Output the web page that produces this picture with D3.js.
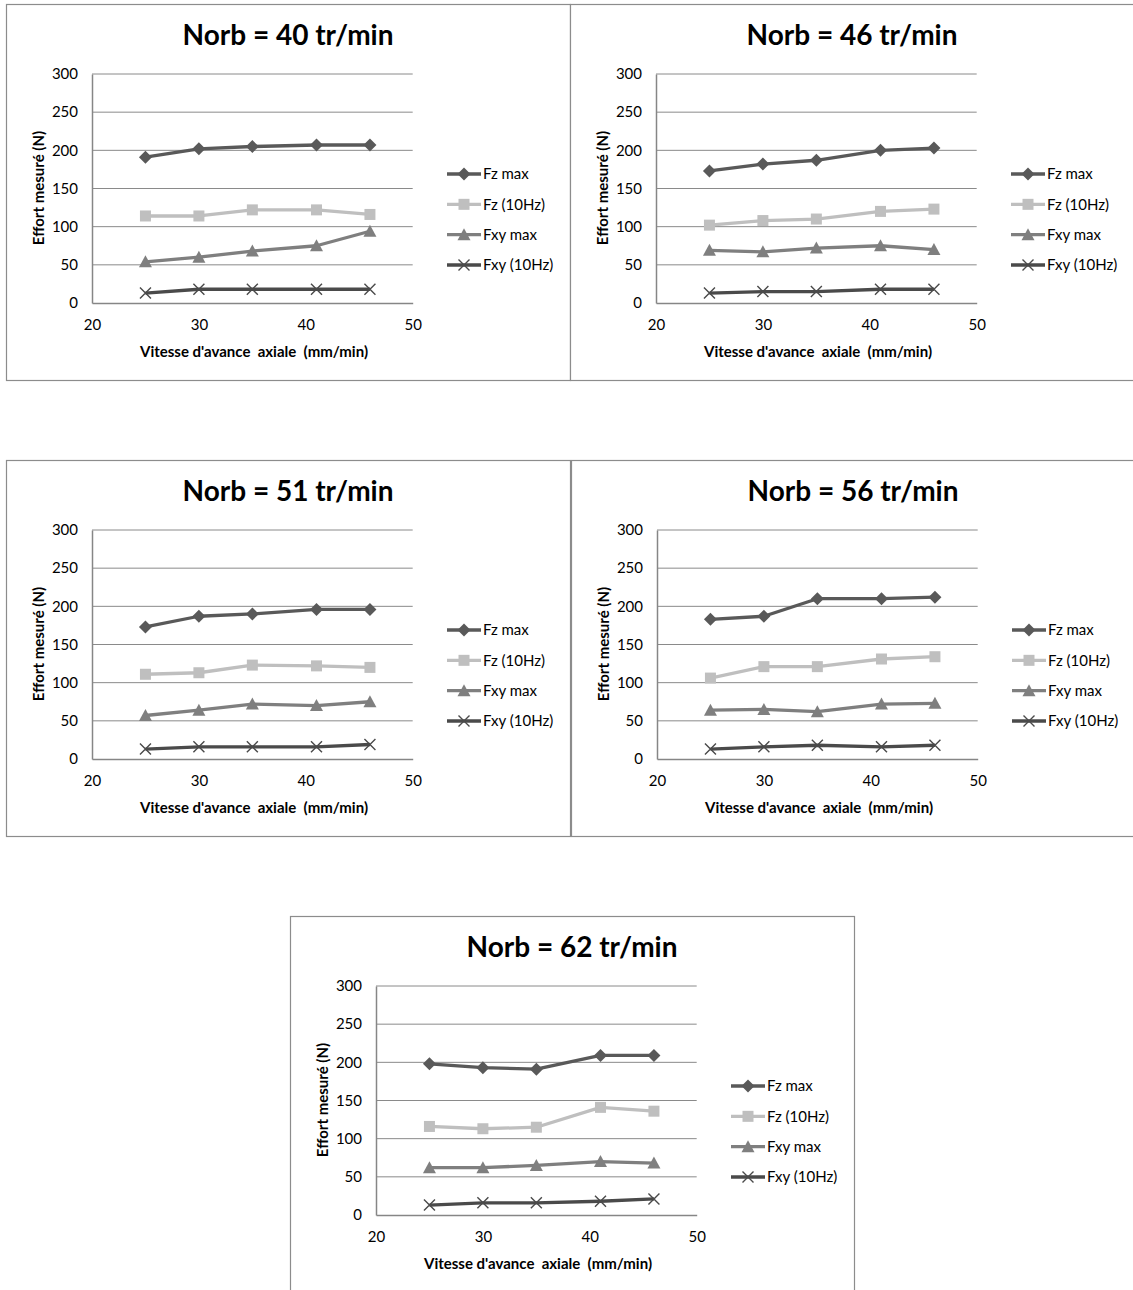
<!DOCTYPE html>
<html>
<head>
<meta charset="utf-8">
<script src="https://cdn.jsdelivr.net/npm/d3@7"></script>
<style>
  html, body { margin: 0; padding: 0; background: #fff; }
  svg { display: block; }
  text { font-family: Lato, "Open Sans", sans-serif; fill: #000; }
</style>
</head>
<body>
<svg id="chart" width="1133" height="1290"></svg>
<script>
// ---------- data ----------
const xValues = [25, 30, 35, 41, 46];
const panelTitles = ["Norb = 40 tr/min", "Norb = 46 tr/min", "Norb = 51 tr/min", "Norb = 56 tr/min", "Norb = 62 tr/min"];
const seriesNames = ["Fz max", "Fz (10Hz)", "Fxy max", "Fxy (10Hz)"];
const xTicks = [20, 30, 40, 50];
const yTicks = [0, 50, 100, 150, 200, 250, 300];
const xAxisTitle = "Vitesse d'avance  axiale  (mm/min)";
const yAxisTitle = "Effort mesuré (N)";

// one row per panel (Norb = 40, 46, 51, 56, 62)
const fzMax = [
  [191, 202, 205, 207, 207],
  [173, 182, 187, 200, 203],
  [173, 187, 190, 196, 196],
  [183, 187, 210, 210, 212],
  [198, 193, 191, 209, 209]
];
const fz10Hz = [
  [114, 114, 122, 122, 116],
  [102, 108, 110, 120, 123],
  [111, 113, 123, 122, 120],
  [106, 121, 121, 131, 134],
  [116, 113, 115, 141, 136]
];
const fxyMax = [
  [54, 60, 68, 75, 94],
  [69, 67, 72, 75, 70],
  [57, 64, 72, 70, 75],
  [64, 65, 62, 72, 73],
  [62, 62, 65, 70, 68]
];
const fxy10Hz = [
  [13, 18, 18, 18, 18],
  [13, 15, 15, 18, 18],
  [13, 16, 16, 16, 19],
  [13, 16, 18, 16, 18],
  [13, 16, 16, 18, 21]
];

// ---------- styles / layout ----------
const seriesData = [fzMax, fz10Hz, fxyMax, fxy10Hz];
const seriesColors = ["#595959", "#bfbfbf", "#7f7f7f", "#4a4a4a"];
const seriesMarkers = ["diamond", "square", "triangle", "cross"];
const panelOrigins = [[6, 4], [570, 4], [6, 460], [571, 460], [290, 916]];
const PW = 564, PH = 376;
const plot = { left: 86, right: 406.7, top: 70, bottom: 299 };

const svg = d3.select("#chart");

const x = d3.scaleLinear().domain([20, 50]).range([plot.left, plot.right]);
const y = d3.scaleLinear().domain([0, 300]).range([plot.bottom, plot.top]);

function drawMarker(g, type, cx, cy, color) {
  if (type === "diamond") {
    g.append("path").attr("d", `M${cx},${cy-6.5}L${cx+6.5},${cy}L${cx},${cy+6.5}L${cx-6.5},${cy}Z`)
      .attr("fill", color);
  } else if (type === "square") {
    g.append("rect").attr("x", cx - 5.5).attr("y", cy - 5.5).attr("width", 11).attr("height", 11)
      .attr("fill", color);
  } else if (type === "triangle") {
    g.append("path").attr("d", `M${cx},${cy-6.5}L${cx+6.5},${cy+5.5}L${cx-6.5},${cy+5.5}Z`)
      .attr("fill", color);
  } else if (type === "cross") {
    g.append("path").attr("d", `M${cx-5.5},${cy-5.5}L${cx+5.5},${cy+5.5}M${cx-5.5},${cy+5.5}L${cx+5.5},${cy-5.5}`)
      .attr("stroke", color).attr("stroke-width", 1.4).attr("fill", "none");
  }
}

panelTitles.forEach((title, p) => {
  const [ox, oy] = panelOrigins[p];
  const g = svg.append("g").attr("transform", `translate(${ox},${oy})`);

  // border
  g.append("rect").attr("x", 0.5).attr("y", 0.5).attr("width", PW).attr("height", PH)
    .attr("fill", "#fff").attr("stroke", "#8c8c8c").attr("stroke-width", 1.2);

  // title
  g.append("text").attr("x", 282).attr("y", 41).attr("text-anchor", "middle")
    .attr("font-size", 28).attr("font-weight", "bold").text(title);

  // grid lines
  g.append("g").selectAll("line").data(yTicks.filter(t => t > 0)).join("line")
    .attr("x1", plot.left).attr("x2", plot.right)
    .attr("y1", d => y(d)).attr("y2", d => y(d))
    .attr("stroke", "#8a8a8a").attr("stroke-width", 1);

  // y axis
  const yAxis = g.append("g").attr("transform", `translate(${plot.left},0)`)
    .call(d3.axisLeft(y).tickValues(yTicks).tickSize(0).tickPadding(14));
  yAxis.select(".domain").attr("stroke", "#868686").attr("stroke-width", 1.5);
  yAxis.selectAll("text").attr("font-size", 15).attr("fill", "#000")
    .attr("font-family", "Lato, sans-serif");

  // x axis
  const xAxis = g.append("g").attr("transform", `translate(0,${plot.bottom})`)
    .call(d3.axisBottom(x).tickValues(xTicks).tickSize(0).tickPadding(16));
  xAxis.select(".domain").attr("stroke", "#868686").attr("stroke-width", 1.5);
  xAxis.selectAll("text").attr("font-size", 15).attr("fill", "#000")
    .attr("font-family", "Lato, sans-serif");

  // axis titles
  g.append("text").attr("x", 248).attr("y", 353).attr("text-anchor", "middle")
    .attr("font-size", 15).attr("font-weight", "bold").style("white-space", "pre")
    .text(xAxisTitle);
  g.append("text").attr("transform", `translate(38,184) rotate(-90)`)
    .attr("text-anchor", "middle").attr("font-size", 15).attr("font-weight", "bold")
    .text(yAxisTitle);

  // series
  const line = d3.line().x(d => x(d[0])).y(d => y(d[1]));
  seriesData.forEach((arr, s) => {
    const pts = xValues.map((xv, i) => [xv, arr[p][i]]);
    g.append("path").datum(pts).attr("d", line)
      .attr("fill", "none").attr("stroke", seriesColors[s]).attr("stroke-width", 3.3)
      .attr("stroke-linejoin", "round");
    const mg = g.append("g");
    pts.forEach(d => drawMarker(mg, seriesMarkers[s], x(d[0]), y(d[1]), seriesColors[s]));
  });

  // legend
  const legY = d3.scalePoint().domain(seriesNames).range([170, 261]);
  seriesNames.forEach((name, s) => {
    const ly = legY(name);
    g.append("line").attr("x1", 441).attr("x2", 475).attr("y1", ly).attr("y2", ly)
      .attr("stroke", seriesColors[s]).attr("stroke-width", 3.3);
    drawMarker(g, seriesMarkers[s], 458, ly, seriesColors[s]);
    g.append("text").attr("x", 477).attr("y", ly).attr("dy", "0.35em")
      .attr("font-size", 15).text(name);
  });
});
</script>
</body>
</html>
